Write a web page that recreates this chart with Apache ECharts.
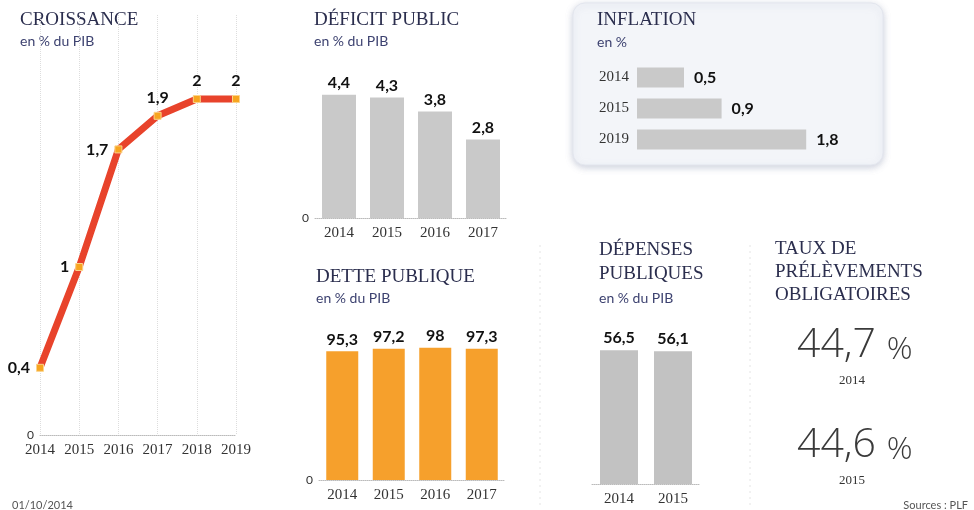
<!doctype html>
<html>
<head>
<meta charset="utf-8">
<title>Budget 2015</title>
<script src="https://cdn.jsdelivr.net/npm/echarts@6/dist/echarts.min.js"></script>
<style>
  html, body { margin: 0; padding: 0; background: #fff; }
  #chart { width: 974px; height: 510px; }
</style>
</head>
<body>
<div id="chart"></div>
<script>
var croissanceAnnees = ['2014', '2015', '2016', '2017', '2018', '2019'];
var croissance = [0.4, 1, 1.7, 1.9, 2, 2];
var croissancePos = ['left', 'left', 'left', 'top', 'top', 'top'];

var deficitAnnees = ['2014', '2015', '2016', '2017'];
var deficit = [4.4, 4.3, 3.8, 2.8];

var detteAnnees = ['2014', '2015', '2016', '2017'];
var dette = [95.3, 97.2, 98, 97.3];

var inflationAnnees = ['2014', '2015', '2019'];
var inflation = [0.5, 0.9, 1.8];

var depensesAnnees = ['2014', '2015'];
var depenses = [56.5, 56.1];

var prelevementsAnnees = ['2014', '2015'];
var prelevements = ['44,7', '44,6'];

var SERIF = '"Liberation Serif", "DejaVu Serif", serif';
var SANS = 'Lato, "Open Sans", "Noto Sans", sans-serif';
var NAVY = '#2b2e4e';

function virgule(v) { return String(v).replace('.', ','); }

var valLabel = {
    show: true, formatter: function (p) { return virgule(p.value); },
    color: '#111', fontFamily: SANS, fontWeight: 'bold', fontSize: 16
};

function titre(x, y, txt) {
    return { type: 'text', left: x, top: y, style: { text: txt, fill: NAVY, font: '19px ' + SERIF } };
}
function sousTitre(x, y, txt) {
    return { type: 'text', left: x, top: y, style: { text: txt, fill: '#3d4270', font: '14px ' + SANS } };
}
function catAxis(idx, data) {
    return {
        type: 'category', gridIndex: idx, data: data,
        axisLine: { show: true, lineStyle: { color: '#bbb', type: 'dotted', width: 1 } },
        axisTick: { show: false },
        axisLabel: { color: '#333', fontFamily: SERIF, fontSize: 15, margin: 8 }
    };
}
function valAxis(idx, max, showZero) {
    return {
        type: 'value', gridIndex: idx, min: 0, max: max, interval: max,
        splitLine: { show: false }, axisLine: { show: false }, axisTick: { show: false },
        axisLabel: {
            show: showZero, color: '#333', fontFamily: SANS, fontSize: 12, margin: 6,
            formatter: function (v) { return v === 0 ? '0' : ''; }
        }
    };
}

var graphics = [
    // encadré inflation
    {
        type: 'rect', shape: { x: 573, y: 3, width: 310, height: 162, r: 12 },
        style: { fill: '#f3f5f9', stroke: '#e3e6ee', lineWidth: 1, shadowBlur: 7, shadowColor: 'rgba(130,140,170,0.4)', shadowOffsetY: 2 },
        z: -10
    },
    titre(20, 11, 'CROISSANCE'), sousTitre(20, 34, 'en % du PIB'),
    titre(314, 11, 'DÉFICIT PUBLIC'), sousTitre(314, 34, 'en % du PIB'),
    titre(316, 268, 'DETTE PUBLIQUE'), sousTitre(316, 291, 'en % du PIB'),
    titre(597, 11, 'INFLATION'), sousTitre(597, 35, 'en %'),
    titre(599, 241, 'DÉPENSES'), titre(599, 265, 'PUBLIQUES'), sousTitre(599, 291, 'en % du PIB'),
    titre(775, 240, 'TAUX DE'), titre(775, 263, 'PRÉLÈVEMENTS'), titre(775, 286, 'OBLIGATOIRES'),
    { type: 'text', left: 12, top: 500, style: { text: '01/10/2014', fill: '#555', font: '11px ' + SANS } },
    { type: 'text', right: 6, top: 500, style: { text: 'Sources : PLF', fill: '#555', font: '11px ' + SANS } },
    // séparateurs pointillés
    { type: 'line', shape: { x1: 540, y1: 245, x2: 540, y2: 505 }, style: { stroke: '#e4e4e4', lineDash: [2, 4] } },
    { type: 'line', shape: { x1: 750, y1: 245, x2: 750, y2: 505 }, style: { stroke: '#e4e4e4', lineDash: [2, 4] } }
];
prelevements.forEach(function (t, i) {
    graphics.push({
        type: 'text', left: 797, top: 325 + i * 100,
        style: {
            text: '{n|' + t + '\u00a0}{p|%}', fill: '#3a3a3a',
            rich: {
                n: { fontSize: 41, fontWeight: 300, fontFamily: '"Open Sans", Lato, sans-serif', fill: '#3a3a3a' },
                p: { fontSize: 32, fontWeight: 300, fontFamily: '"Open Sans", Lato, sans-serif', fill: '#3a3a3a', padding: [8, 0, 0, 0] }
            }
        }
    });
    graphics.push({
        type: 'text', left: 839, top: 374 + i * 100,
        style: { text: prelevementsAnnees[i], fill: '#333', font: '13px ' + SERIF }
    });
});

var option = {
    backgroundColor: '#ffffff',
    animation: false,
    graphic: graphics,
    grid: [
        { left: 40, right: 738, top: 15, bottom: 75 },   // croissance
        { left: 315, right: 467, top: 78, bottom: 292 },  // déficit
        { left: 319, right: 469, top: 345, bottom: 30 },  // dette
        { left: 637, right: 149, top: 62, bottom: 355 },  // inflation
        { left: 592, right: 274, top: 342, bottom: 26 }   // dépenses
    ],
    xAxis: [
        Object.assign(catAxis(0, croissanceAnnees), {
            boundaryGap: false,
            splitLine: { show: true, lineStyle: { color: '#ddd', type: 'dotted' } }
        }),
        catAxis(1, deficitAnnees),
        catAxis(2, detteAnnees),
        {
            type: 'value', gridIndex: 3, min: 0, max: 2,
            show: false, splitLine: { show: false }
        },
        catAxis(4, depensesAnnees)
    ],
    yAxis: [
        valAxis(0, 2.5, true),
        valAxis(1, 5, true),
        valAxis(2, 100, true),
        {
            type: 'category', gridIndex: 3, data: inflationAnnees, inverse: true,
            axisLine: { show: false }, axisTick: { show: false },
            axisLabel: { color: '#333', fontFamily: SERIF, fontSize: 15, margin: 8 }
        },
        valAxis(4, 60, false)
    ],
    series: [
        {
            type: 'line', xAxisIndex: 0, yAxisIndex: 0, data: croissance.map(function (v, i) {
                return { value: v, label: { position: croissancePos[i] } };
            }),
            lineStyle: { color: '#e8432b', width: 7 },
            symbol: 'rect', symbolSize: 7,
            itemStyle: { color: '#f7a51f', borderColor: '#fbd38a', borderWidth: 1 },
            label: Object.assign({}, valLabel, { distance: 6 }),
            z: 3
        },
        {
            type: 'bar', xAxisIndex: 1, yAxisIndex: 1, data: deficit, barWidth: 34,
            itemStyle: { color: '#c9c9c9' }, label: Object.assign({ position: 'top', distance: 4 }, valLabel)
        },
        {
            type: 'bar', xAxisIndex: 2, yAxisIndex: 2, data: dette, barWidth: 32,
            itemStyle: { color: '#f6a02c' }, label: Object.assign({ position: 'top', distance: 4 }, valLabel)
        },
        {
            type: 'bar', xAxisIndex: 3, yAxisIndex: 3, data: inflation, barWidth: 20,
            itemStyle: { color: '#c9c9c9' }, label: Object.assign({ position: 'right', distance: 10 }, valLabel)
        },
        {
            type: 'bar', xAxisIndex: 4, yAxisIndex: 4, data: depenses, barWidth: 38,
            itemStyle: { color: '#c2c2c2' }, label: Object.assign({ position: 'top', distance: 4 }, valLabel)
        }
    ]
};

var myChart = echarts.init(document.getElementById('chart'));
myChart.setOption(option);
</script>
</body>
</html>
